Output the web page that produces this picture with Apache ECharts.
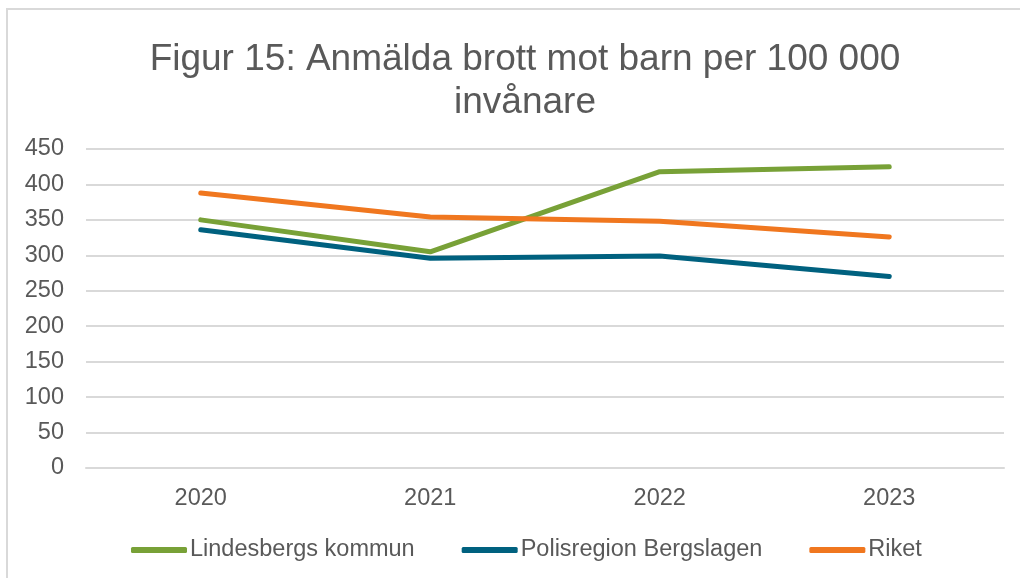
<!DOCTYPE html>
<html>
<head>
<meta charset="utf-8">
<script src="https://cdn.jsdelivr.net/npm/echarts@6/dist/echarts.min.js"></script>
<style>
  html, body {margin: 0; padding: 0; background: #fff}
  #chart {width: 1020px; height: 578px}
</style>
</head>
<body>
<div id="chart"></div>
<script>
  const years = ['2020', '2021', '2022', '2023']
  const lindesberg = [350, 305, 418, 425]
  const polisregion = [336, 296, 299, 270]
  const riket = [388, 354, 348, 326]
  const yTicks = {min: 0, max: 450, interval: 50}

  const font = '"Liberation Sans", Arial, sans-serif', textColor = '#595959', gridColor = '#d9d9d9'
  const myChart = echarts.init(document.getElementById('chart'))

  function lineSeries(name, data, color) {
    return {
      name, type: 'line', data, symbol: 'none', smooth: false,
      lineStyle: {color, width: 5, cap: 'round', join: 'round'},
      itemStyle: {color},
    }
  }

  myChart.setOption({
    animation: false,
    textStyle: {fontFamily: font},
    graphic: [{
      type: 'rect', silent: true, z: -1,
      shape: {x: 7, y: 9, width: 1040, height: 600},
      style: {fill: 'none', stroke: gridColor, lineWidth: 2},
    }],
    title: {
      text: 'Figur 15: Anmälda brott mot barn per 100 000\ninvånare',
      left: 520, top: 33, textAlign: 'center',
      textStyle: {fontFamily: font, fontSize: 37, fontWeight: 'normal', color: textColor, lineHeight: 43, align: 'center'},
    },
    legend: {
      left: 126, top: 533,
      itemWidth: 56, itemHeight: 6, itemGap: 47,
      icon: 'roundRect',
      textStyle: {fontFamily: font, fontSize: 23.5, color: textColor, padding: [0, 0, 0, -2]},
      data: ['Lindesbergs kommun', 'Polisregion Bergslagen', 'Riket'],
    },
    grid: {left: 86, right: 16, top: 149, bottom: 110},
    xAxis: {
      type: 'category', data: years, boundaryGap: true,
      axisLine: {lineStyle: {color: gridColor, width: 2}},
      axisTick: {show: false},
      axisLabel: {fontFamily: font, fontSize: 23.5, color: textColor, margin: 19},
    },
    yAxis: {
      type: 'value', ...yTicks,
      axisLine: {show: false}, axisTick: {show: false},
      axisLabel: {fontFamily: font, fontSize: 23.5, color: textColor, margin: 22, padding: [4, 0, 0, 0]},
      splitLine: {lineStyle: {color: gridColor, width: 2}},
    },
    series: [
      lineSeries('Lindesbergs kommun', lindesberg, '#78A137'),
      lineSeries('Polisregion Bergslagen', polisregion, '#00617F'),
      lineSeries('Riket', riket, '#F0771F'),
    ],
  })
</script>
</body>
</html>
